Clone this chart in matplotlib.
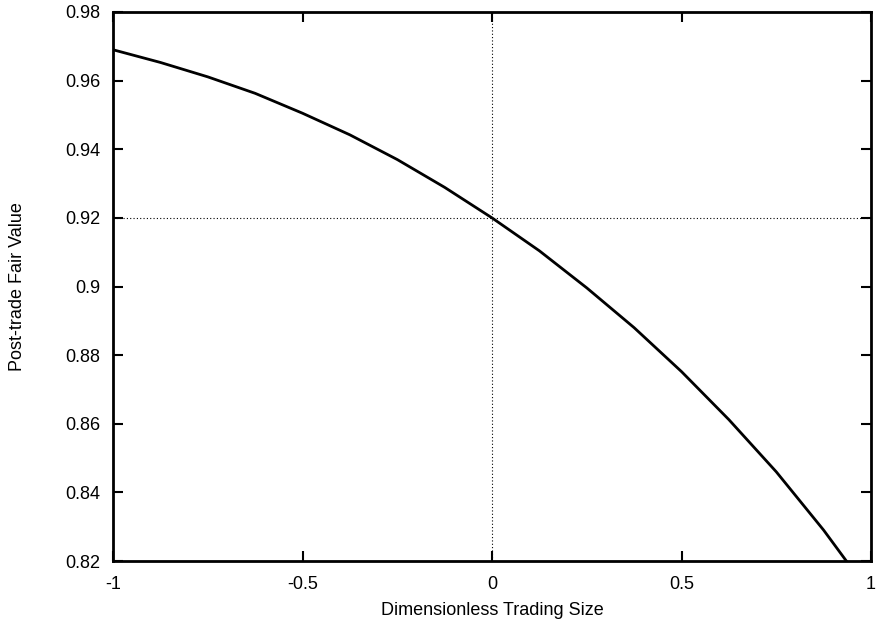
import numpy as np
import matplotlib
matplotlib.use('Agg')
import matplotlib.pyplot as plt

plt.rcParams['font.family'] = ['Liberation Sans', 'DejaVu Sans']
plt.rcParams['axes.unicode_minus'] = False

# values
trade_size = [-1.0, -0.875, -0.75, -0.625, -0.5, -0.375, -0.25, -0.125, 0.0,
              0.125, 0.25, 0.375, 0.5, 0.625, 0.75, 0.875, 0.935]
fair_value = [0.9690, 0.9653, 0.9611, 0.9563, 0.9505, 0.9442, 0.9370, 0.9289, 0.9200,
              0.9104, 0.8996, 0.8880, 0.8752, 0.8612, 0.8460, 0.8290, 0.8200]

x_ticks = [-1, -0.5, 0, 0.5, 1]
x_labels = ['-1', '-0.5', '0', '0.5', '1']
y_ticks = [0.82, 0.84, 0.86, 0.88, 0.90, 0.92, 0.94, 0.96, 0.98]
y_labels = ['0.82', '0.84', '0.86', '0.88', '0.9', '0.92', '0.94', '0.96', '0.98']

fig = plt.figure(figsize=(8.77, 6.24), dpi=100)
ax = fig.add_axes([113 / 877, 63 / 624, 758 / 877, 549 / 624])

# zero axes as dotted lines
ax.axvline(0, color='black', linestyle=(0, (1, 2)), linewidth=0.8)
ax.axhline(0.92, color='black', linestyle=(0, (1, 2)), linewidth=0.8)

ax.plot(trade_size, fair_value, color='black', linewidth=2)

ax.set_xlim(-1, 1)
ax.set_ylim(0.82, 0.98)
ax.set_xticks(x_ticks)
ax.set_xticklabels(x_labels)
ax.set_yticks(y_ticks)
ax.set_yticklabels(y_labels)
ax.tick_params(direction='in', length=7, width=1.5, top=True, right=True,
               labelsize=13)
ax.tick_params(axis='x', pad=11)
ax.tick_params(axis='y', pad=9)
for s in ax.spines.values():
    s.set_linewidth(2)

ax.set_xlabel('Dimensionless Trading Size', fontsize=13, labelpad=6)
ax.set_ylabel('Post-trade Fair Value', fontsize=13, labelpad=28)

fig.savefig('out.png', dpi=100)
